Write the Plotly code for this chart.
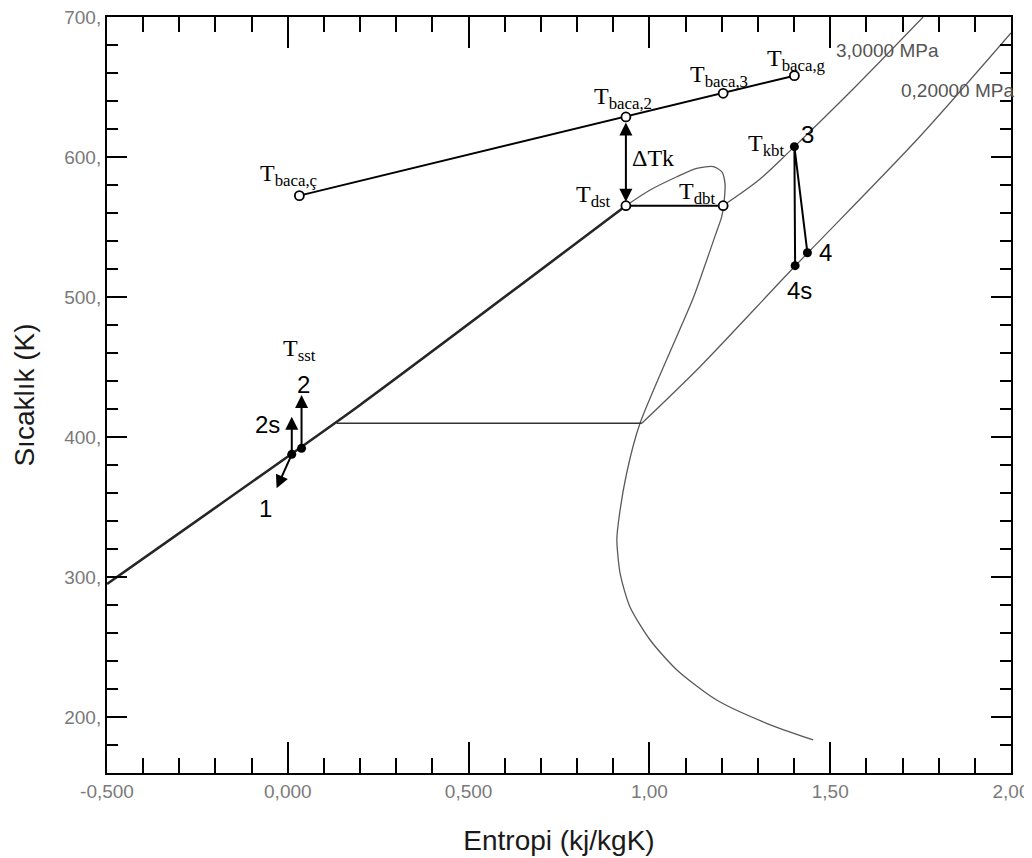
import plotly.graph_objects as go

# ---------------- data ----------------
# saturated-liquid line (shared by both isobars in the liquid region)
liq_s = [-0.5, 0.20, 0.935]
liq_T = [295.0, 422.9, 565.2]

# saturation dome (from T_dst over the top and down the vapour side)
dome_s = [0.935, 1.002, 1.076, 1.131, 1.177, 1.200, 1.209, 1.206, 1.200, 1.181,
          1.149, 1.121, 0.974, 0.937, 0.914, 0.910, 0.919, 0.946, 1.002,
          1.076, 1.186, 1.324, 1.453]
dome_T = [565.2, 576.4, 585.9, 591.9, 593.1, 589.5, 581.2, 566.9, 557.4, 543.1,
          519.3, 499.1, 409.8, 374.1, 338.4, 326.4, 302.6, 278.8, 255.0,
          233.6, 212.1, 195.5, 183.6]

# 3.0000 MPa isobar, superheated branch
hp_s = [1.204, 1.306, 1.401, 1.555, 1.757]
hp_T = [565.4, 584.3, 607.4, 646.4, 700.0]

# 0.20000 MPa isobar: two-phase plateau and superheated branch
lp_sat_s = [0.135, 0.979]
lp_sat_T = [409.8, 409.8]
lp_s = [0.979, 1.140, 1.403, 1.739, 2.0]
lp_T = [409.8, 450.2, 522.1, 612.1, 688.6]

# flue gas (baca) line
gas_labels = ["baca,ç", "baca,2", "baca,3", "baca,g"]
gas_s = [0.032, 0.935, 1.204, 1.401]
gas_T = [572.4, 628.6, 645.5, 658.1]

# evaporator: T_dst, T_dbt
evap_labels = ["dst", "dbt"]
evap_s = [0.935, 1.204]
evap_T = [565.2, 565.2]

# turbine: 4s, 3, 4
turb_labels = ["4s", "3", "4"]
turb_s = [1.403, 1.401, 1.437]
turb_T = [522.4, 607.4, 531.6]

# pump: 1, 2
pump_labels = ["1", "2"]
pump_s = [0.011, 0.038]
pump_T = [387.6, 391.9]
# pump arrow tips: to "1" (down-left), "2s" (up from 1), "2" (up from 2)
arrow_tip_s = [-0.031, 0.011, 0.038]
arrow_tip_T = [363.4, 414.5, 430.0]

x_tickvals = [-0.5, 0.0, 0.5, 1.0, 1.5, 2.0]
x_ticktext = ["-0,500", "0,000", "0,500", "1,00", "1,50", "2,00"]
y_tickvals = [200, 300, 400, 500, 600, 700]
y_ticktext = ["200,", "300,", "400,", "500,", "600,", "700,"]

# ---------------- figure ----------------
GRAY = "#5a5a5a"
SANS = "Liberation Sans, Arial, sans-serif"
SERIF = "Liberation Serif, Times New Roman, serif"

fig = go.Figure()

fig.add_trace(go.Scatter(x=dome_s, y=dome_T, mode="lines",
                         line=dict(color=GRAY, width=1.3, shape="spline", smoothing=0.7)))
fig.add_trace(go.Scatter(x=hp_s, y=hp_T, mode="lines",
                         line=dict(color=GRAY, width=1.3, shape="spline", smoothing=1.0)))
fig.add_trace(go.Scatter(x=lp_s, y=lp_T, mode="lines",
                         line=dict(color=GRAY, width=1.3, shape="spline", smoothing=0.8)))
fig.add_trace(go.Scatter(x=lp_sat_s, y=lp_sat_T, mode="lines",
                         line=dict(color="#333333", width=1.6)))
fig.add_trace(go.Scatter(x=liq_s, y=liq_T, mode="lines",
                         line=dict(color="#262626", width=2.6, shape="spline", smoothing=0.5)))

# cycle lines
fig.add_trace(go.Scatter(x=gas_s, y=gas_T, mode="lines+markers",
                         line=dict(color="black", width=2),
                         marker=dict(size=9, color="white", line=dict(color="black", width=1.8))))
fig.add_trace(go.Scatter(x=evap_s, y=evap_T, mode="lines+markers",
                         line=dict(color="black", width=2),
                         marker=dict(size=9, color="white", line=dict(color="black", width=1.8))))
fig.add_trace(go.Scatter(x=turb_s, y=turb_T, mode="lines+markers",
                         line=dict(color="black", width=2),
                         marker=dict(size=9, color="black")))
fig.add_trace(go.Scatter(x=pump_s, y=pump_T, mode="markers",
                         marker=dict(size=9, color="black")))

ann = []

def label(x, y, text, dx, dy, font=SERIF, size=24):
    ann.append(dict(x=x, y=y, xref="x", yref="y", text=text, showarrow=False,
                    xanchor="center", yanchor="middle", xshift=dx, yshift=dy,
                    font=dict(family=font, size=size, color="black")))

# flue-gas labels
gas_shift = [(-11, 21), (-3, 19), (-4, 17), (2, 16)]
for s, T, lab, (dx, dy) in zip(gas_s, gas_T, gas_labels, gas_shift):
    label(s, T, "T<sub>%s</sub>" % lab, dx, dy)

evap_shift = [(-32, 10), (-26, 13)]
for s, T, lab, (dx, dy) in zip(evap_s, evap_T, evap_labels, evap_shift):
    label(s, T, "T<sub>%s</sub>" % lab, dx, dy)

# turbine labels
label(turb_s[1], turb_T[1], "T<sub>kbt</sub>", -28, 2)
label(turb_s[1], turb_T[1], "3", 13, 12, font=SANS, size=24)
label(turb_s[0], turb_T[0], "4s", 4, -25, font=SANS, size=24)
label(turb_s[2], turb_T[2], "4", 18, 0, font=SANS, size=24)

# pump labels
label(pump_s[1], pump_T[1], "T<sub>sst</sub>", -2, 98)
label(arrow_tip_s[2], arrow_tip_T[2], "2", 2, 11, font=SANS, size=24)
label(pump_s[0], pump_T[0], "2s", -24, 30, font=SANS, size=24)
label(pump_s[0], pump_T[0], "1", -26, -54, font=SANS, size=24)

# pump arrows
for ts, tT in zip(arrow_tip_s, arrow_tip_T):
    src = 1 if ts == pump_s[1] else 0
    ann.append(dict(x=ts, y=tT, ax=pump_s[src], ay=pump_T[src], xref="x", yref="y",
                    axref="x", ayref="y", text="", showarrow=True, arrowhead=2,
                    arrowsize=1.3, arrowwidth=2, arrowcolor="black", standoff=0))

# ΔTk double arrow between T_baca,2 and T_dst
ann.append(dict(x=evap_s[0], y=evap_T[0], ax=gas_s[1], ay=gas_T[1], xref="x", yref="y",
                axref="x", ayref="y", text="", showarrow=True, arrowhead=2,
                startarrowhead=2, arrowside="end+start", arrowsize=1.3, startarrowsize=1.3,
                arrowwidth=2, arrowcolor="black", standoff=4, startstandoff=4))
label(evap_s[0], (gas_T[1] + evap_T[0]) / 2, "ΔTk", 27, 3)

# isobar labels
ann.append(dict(x=0.863, y=0.956, xref="paper", yref="paper", text="3,0000 MPa",
                showarrow=False, xanchor="center", yanchor="middle",
                font=dict(family=SANS, size=19, color="#555555")))
ann.append(dict(x=0.941, y=0.903, xref="paper", yref="paper", text="0,20000 MPa",
                showarrow=False, xanchor="center", yanchor="middle",
                font=dict(family=SANS, size=19, color="#555555")))

# the page body adds an 8 px margin, so the figure is offset to compensate
fig.update_layout(
    width=1024, height=850,
    margin=dict(l=99, r=21, t=9, b=85, autoexpand=False),
    paper_bgcolor="white", plot_bgcolor="white",
    showlegend=False,
    annotations=ann,
    font=dict(family=SANS),
)

fig.update_xaxes(
    range=[-0.5, 2.0], tickmode="array", tickvals=x_tickvals, ticktext=x_ticktext,
    ticks="inside", ticklen=31, tickwidth=1.5, tickcolor="black",
    minor=dict(tickmode="linear", tick0=0, dtick=0.1, ticks="inside", ticklen=15,
               tickwidth=1.5, tickcolor="black"),
    showline=True, linecolor="black", linewidth=2, mirror="ticks",
    showgrid=False, zeroline=False, automargin=False, ticklabeloverflow="allow",
    tickfont=dict(family=SANS, size=19, color="#7a7a7a"),
    title=dict(text="Entropi (kj/kgK)", font=dict(family=SANS, size=28, color="#1a1a1a"),
               standoff=30),
)
fig.update_yaxes(
    range=[160, 700], tickmode="array", tickvals=y_tickvals, ticktext=y_ticktext,
    ticks="inside", ticklen=20, tickwidth=1.5, tickcolor="black",
    minor=dict(tickmode="linear", tick0=0, dtick=20, ticks="inside", ticklen=11,
               tickwidth=1.5, tickcolor="black"),
    showline=True, linecolor="black", linewidth=2, mirror="ticks",
    showgrid=False, zeroline=False, automargin=False, ticklabeloverflow="allow",
    tickfont=dict(family=SANS, size=19, color="#7a7a7a"),
    title=dict(text="Sıcaklık (K)", font=dict(family=SANS, size=28, color="#1a1a1a"),
               standoff=21),
)

fig.write_html("out.html")
